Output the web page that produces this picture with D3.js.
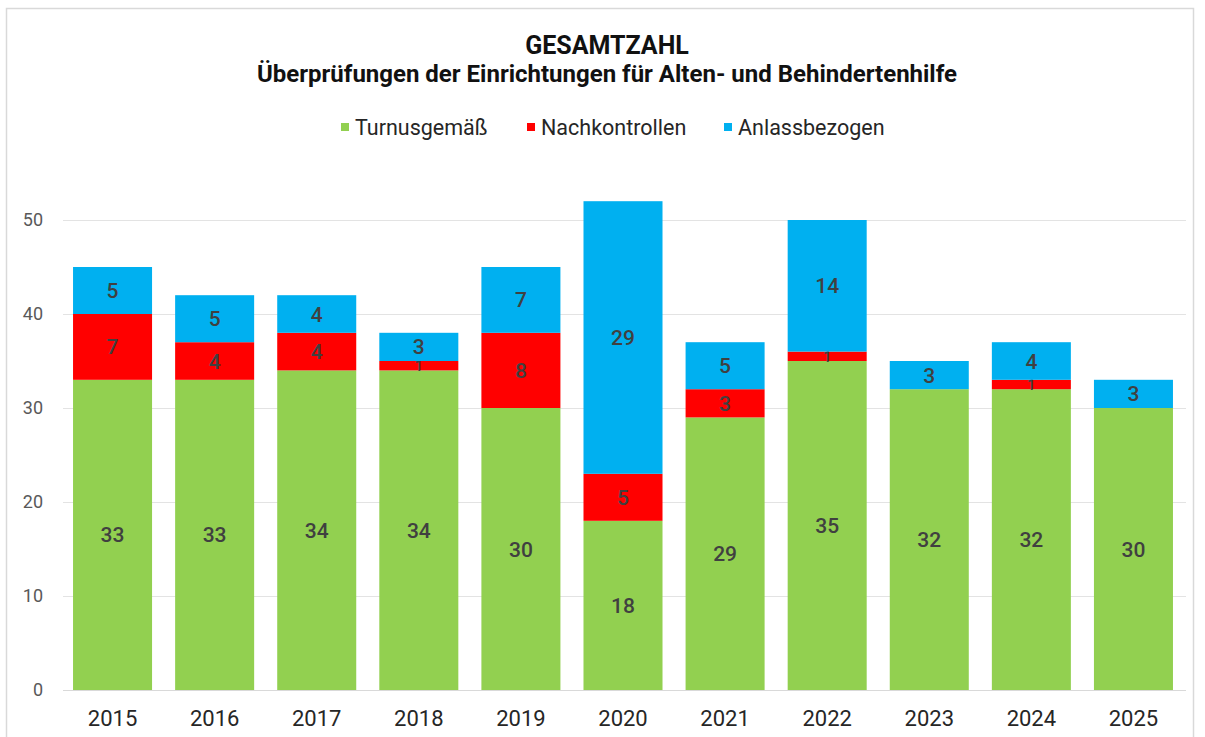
<!DOCTYPE html>
<html>
<head>
<meta charset="utf-8">
<script src="https://cdn.jsdelivr.net/npm/d3@7"></script>
<style>
  body { margin: 0; background: #fff; }
  svg { display: block; font-family: Roboto, "Liberation Sans", sans-serif; }
</style>
</head>
<body>
<svg id="chart" width="1205" height="737"></svg>
<script>
// Daten
const years = ['2015', '2016', '2017', '2018', '2019', '2020', '2021', '2022', '2023', '2024', '2025'];
const turnus = [33, 33, 34, 34, 30, 18, 29, 35, 32, 32, 30];
const nachkontrollen = [7, 4, 4, 1, 8, 5, 3, 1, 0, 1, 0];
const anlass = [5, 5, 4, 3, 7, 29, 5, 14, 3, 4, 3];
const seriesNames = ['Turnusgemäß', 'Nachkontrollen', 'Anlassbezogen'];
const yTicks = [0, 10, 20, 30, 40, 50];

const colors = ['#92d050', '#ff0000', '#00b0f0'];

const svg = d3.select('#chart');

// Rahmen
svg.append('rect')
   .attr('x', 6.5).attr('y', 8.5)
   .attr('width', 1187).attr('height', 740)
   .attr('fill', '#fff').attr('stroke', '#d9d9d9').attr('stroke-width', 1.5);

const rows = years.map((y, i) => ({
  year: y,
  'Turnusgemäß': turnus[i],
  'Nachkontrollen': nachkontrollen[i],
  'Anlassbezogen': anlass[i]
}));

const stacked = d3.stack().keys(seriesNames)(rows);

const x = d3.scaleBand().domain(years).range([61.5, 1184.5]).paddingInner(0.226).paddingOuter(0.113);
const y = d3.scaleLinear().domain([0, 50]).range([690, 220]);

// Gitternetz
svg.append('g').selectAll('line').data(yTicks).enter()
   .append('line')
   .attr('x1', 63).attr('x2', 1186)
   .attr('y1', d => y(d) + 0.5).attr('y2', d => y(d) + 0.5)
   .attr('stroke', d => d === 0 ? '#d9d9d9' : '#e3e3e3').attr('stroke-width', 1);

// y-Achse
const yAxis = svg.append('g').attr('transform', 'translate(43,0)')
   .call(d3.axisLeft(y).tickValues(yTicks).tickSize(0).tickPadding(0));
yAxis.select('.domain').remove();
yAxis.selectAll('text').attr('font-size', 18).attr('fill', '#595959')
     .attr('font-family', 'Roboto, sans-serif');

// x-Achse
const xAxis = svg.append('g').attr('transform', 'translate(0,690)')
   .call(d3.axisBottom(x).tickSize(0).tickPadding(20));
xAxis.select('.domain').remove();
xAxis.selectAll('text').attr('font-size', 22).attr('fill', '#262626')
     .attr('font-family', 'Roboto, sans-serif');

// Balken
const layers = svg.append('g').selectAll('g').data(stacked).enter()
   .append('g').attr('fill', (d, i) => colors[i]);

layers.selectAll('rect').data(d => d).enter()
   .append('rect')
   .attr('x', d => x(d.data.year))
   .attr('width', x.bandwidth())
   .attr('y', d => y(d[1]))
   .attr('height', d => y(d[0]) - y(d[1]));

// Datenbeschriftungen (Wert 1 etwas kleiner, passt sonst nicht ins schmale Segment)
layers.selectAll('text').data(d => d.filter(p => p[1] - p[0] > 0)).enter()
   .append('text')
   .attr('x', d => x(d.data.year) + x.bandwidth() / 2)
   .attr('y', d => y((d[0] + d[1]) / 2))
   .attr('dy', '0.36em')
   .attr('text-anchor', 'middle')
   .attr('font-size', d => (d[1] - d[0]) < 2 ? 15 : 21).attr('font-weight', 500)
   .attr('fill', '#404040')
   .text(d => d[1] - d[0]);

// Titel
svg.append('text').attr('x', 607).attr('y', 54)
   .attr('text-anchor', 'middle').attr('font-size', 25).attr('font-weight', 'bold')
   .attr('fill', '#111').text('GESAMTZAHL');
svg.append('text').attr('x', 607).attr('y', 82)
   .attr('text-anchor', 'middle').attr('font-size', 24).attr('font-weight', 'bold')
   .attr('fill', '#111').text('Überprüfungen der Einrichtungen für Alten- und Behindertenhilfe');

// Legende
const legendX = [341, 527, 724];
const legend = svg.append('g').selectAll('g').data(seriesNames).enter()
   .append('g').attr('transform', (d, i) => `translate(${legendX[i]},127)`);
legend.append('rect').attr('x', 0).attr('y', -4).attr('width', 8).attr('height', 8)
      .attr('fill', (d, i) => colors[i]);
legend.append('text').attr('x', 14).attr('dy', '0.36em')
      .attr('font-size', 21.5).attr('fill', '#262626').text(d => d);
</script>
</body>
</html>
